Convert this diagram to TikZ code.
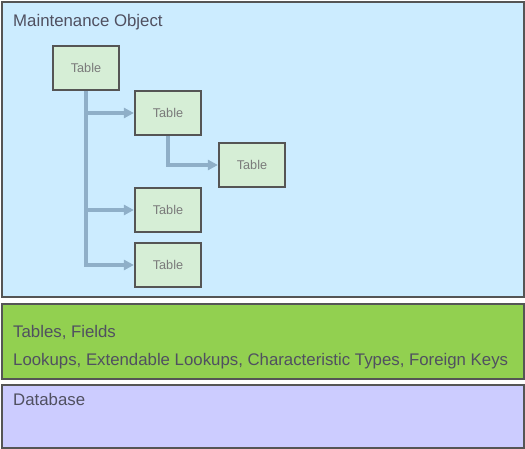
\documentclass[tikz,border=0pt]{standalone}
\usepackage{fontspec}
\setmainfont{Liberation Sans}
\usepackage{tikz}
\usetikzlibrary{arrows.meta,positioning}
\definecolor{frame}{HTML}{555555}
\definecolor{ink}{HTML}{505060}
\definecolor{tableink}{HTML}{7A7A7A}
\definecolor{skybg}{HTML}{CCECFF}
\definecolor{limebg}{HTML}{92D050}
\definecolor{lilacbg}{HTML}{CCCCFF}
\definecolor{tablebg}{HTML}{D6EED6}
\definecolor{linkblue}{HTML}{8FAFC8}
\tikzset{
  layerbox/.style={
    draw=frame, line width=2.4pt, anchor=north west,
    inner sep=0pt, minimum width=522pt
  },
  layerlabel/.style={
    anchor=west, inner sep=0pt, text=ink,
    font=\fontsize{16.8}{20}\selectfont
  },
  tablecard/.style={
    draw=frame, fill=tablebg, line width=2.2pt,
    minimum width=66pt, minimum height=44pt, inner sep=0pt,
    text=tableink, font=\fontsize{12.7}{15}\selectfont
  },
  flowarrow/.style={
    draw=linkblue, line width=3.2pt,
    -{Triangle[length=10pt,width=10pt]}
  }
}

\begin{document}
\begin{tikzpicture}[x=1pt,y=-1pt]
  \useasboundingbox (0,0) rectangle (525,449);
  % layers
  \node[layerbox,fill=skybg,minimum height=295pt] (maint) at (1,1) {};
  \node[layerbox,fill=limebg,minimum height=75pt] (fields) at (1,303) {};
  \node[layerbox,fill=lilacbg,minimum height=63pt] (db) at (1,384) {};
  \node[layerlabel] (maintlabel) at (13,22) {Maintenance Object};
  \node[layerlabel] (fieldslabel) at (13,332) {Tables, Fields};
  \node[layerlabel] (lookuplabel) at (13,361) {Lookups, Extendable Lookups, Characteristic Types, Foreign Keys};
  \node[layerlabel] (dblabel) at (13,399) {Database};
  % tables
  \node[tablecard] (t1) at (86,68) {Table};
  \node[tablecard] (t2) at (168,113) {Table};
  \node[tablecard] (t3) at (252,165) {Table};
  \node[tablecard] (t4) at (168,210) {Table};
  \node[tablecard] (t5) at (168,265) {Table};
  % links
  \draw[flowarrow] (t1.south) |- (t2.west);
  \draw[flowarrow] (t1.south) |- (t4.west);
  \draw[flowarrow] (t1.south) |- (t5.west);
  \draw[flowarrow] (t2.south) |- (t3.west);
\end{tikzpicture}
\end{document}
